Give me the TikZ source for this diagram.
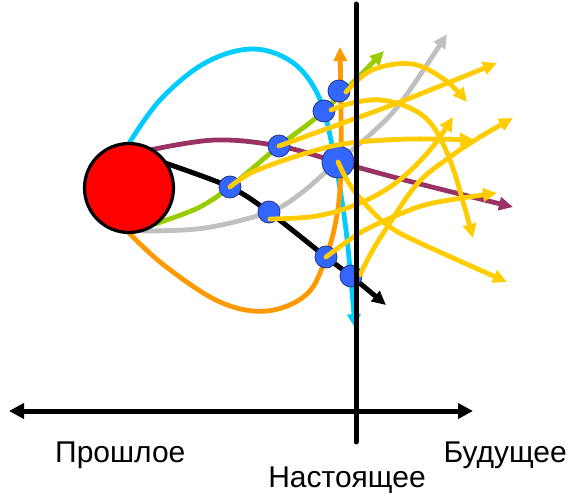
\documentclass[tikz,border=0pt]{standalone}
\usepackage{fontspec}
\setmainfont{Liberation Sans}
\usetikzlibrary{arrows.meta}
\definecolor{cyanc}{RGB}{0,204,255}
\definecolor{purpc}{RGB}{153,51,102}
\definecolor{greenc}{RGB}{153,204,0}
\definecolor{grayc}{RGB}{192,192,192}
\definecolor{orangec}{RGB}{255,153,0}
\definecolor{yellowc}{RGB}{255,204,0}
\definecolor{dotblue}{RGB}{51,102,255}
\definecolor{dotedge}{RGB}{35,55,130}
\tikzset{
  curve/.style={line width=4.8pt, line cap=round, line join=round},
  arr/.style={-{Triangle[length=14pt,width=13pt]}},
  dot/.style={circle, fill=dotblue, draw=dotedge, line width=0.8pt, minimum size=22pt, inner sep=0pt},
  bigdot/.style={dot, minimum size=32pt},
  lbl/.style={font=\fontsize{30}{34}\selectfont, inner sep=0pt},
  axisline/.style={line width=5pt},
}
\begin{document}
\begin{tikzpicture}[x=1pt,y=-1pt]
\useasboundingbox (0,0) rectangle (570,494);
% dot positions
\coordinate (A) at (230,187);
\coordinate (B) at (279,146);
\coordinate (D) at (269,212);
\coordinate (E) at (324,111);
\coordinate (F) at (339,91);
\coordinate (G) at (338,162);
\coordinate (H) at (326,257);
\coordinate (K) at (351,276);
\coordinate (C) at (129,188);
% arrow ends
\coordinate (cyanend) at (355,328);
\coordinate (purpend) at (513,207);
\coordinate (blackend) at (386,305);
\coordinate (greenend) at (384,51);
\coordinate (grayend) at (447,34);
\coordinate (orangeend) at (340,47);
% base curves
\draw[curve, cyanc, arr] plot[smooth, tension=0.6] coordinates {(128,145) (160,100) (205,63) (252,49) (292,62) (318,95) (332,145) (346,230) (cyanend)};
\draw[curve, purpc, arr] plot[smooth, tension=0.6] coordinates {(150,150) (215,140) (B) (G) (420,184) (purpend)};
\draw[curve, black, line width=5pt, arr] plot[smooth, tension=0.5] coordinates {(165,163) (A) (D) (H) (K) (blackend)};
\draw[curve, greenc, arr] plot[smooth, tension=0.5] coordinates {(155,224) (198,208) (A) (B) (E) (greenend)};
\draw[curve, grayc, arr] plot[smooth, tension=0.6] coordinates {(143,231) (205,228) (D) (300,194) (336,163) (372,133) (402,101) (grayend)};
\draw[curve, orangec, arr] plot[smooth, tension=0.6] coordinates {(128,232) (165,266) (220,302) (267,311) (307,294) (326,257) (337,215) (341,170) (341,110) (orangeend)};
% red circle
\node[circle, fill=red, draw=black, line width=3.2pt, minimum size=89pt, inner sep=0pt] (sun) at (C) {};
% dots
\node[dot] (dA) at (A) {};
\node[dot] (dB) at (B) {};
\node[dot] (dD) at (D) {};
\node[dot] (dE) at (E) {};
\node[dot] (dF) at (F) {};
\node[bigdot] (dG) at (G) {};
\node[dot] (dH) at (H) {};
\node[dot] (dK) at (K) {};
% yellow arrows
\coordinate (y1) at (467,102);
\coordinate (y2) at (473,238);
\coordinate (y3) at (497,63);
\coordinate (y4) at (474,140);
\coordinate (y5) at (453,117);
\coordinate (y6) at (507,282);
\coordinate (y7) at (497,193);
\coordinate (y8) at (513,118);
\draw[curve, yellowc, arr] plot[smooth, tension=0.6] coordinates {(346,92) (372,70) (412,64) (445,80) (y1)};
\draw[curve, yellowc, arr] plot[smooth, tension=0.6] coordinates {(331,110) (352,103) (380,100) (410,108) (432,125) (450,160) (464,205) (y2)};
\draw[curve, yellowc, arr] plot[smooth, tension=0.5] coordinates {(B) (340,124) (400,102) (y3)};
\draw[curve, yellowc, arr] plot[smooth, tension=0.6] coordinates {(A) (255,171) (310,152) (350,143) (410,139) (y4)};
\draw[curve, yellowc, arr] plot[smooth, tension=0.6] coordinates {(270,219) (317,216) (360,203) (397,182) (430,150) (y5)};
\draw[curve, yellowc, arr] plot[smooth, tension=0.6] coordinates {(G) (350,185) (368,207) (390,227) (420,243) (y6)};
\draw[curve, yellowc, arr] plot[smooth, tension=0.6] coordinates {(H) (345,243) (365,230) (400,214) (433,203) (y7)};
\draw[curve, yellowc, arr] plot[smooth, tension=0.6] coordinates {(360,275) (370,255) (384,232) (417,184) (450,157) (480,137) (y8)};
% present line and time axis
\coordinate (ntop) at (356,4);
\coordinate (nbot) at (356,442);
\coordinate (tleft) at (9,411);
\coordinate (tright) at (473,411);
\draw[axisline, line cap=round] (ntop) -- (nbot);
\draw[axisline, {Triangle[length=15pt,width=15pt]}-{Triangle[length=15pt,width=15pt]}] (tleft) -- (tright);
% labels
\node[lbl, anchor=base west] (past) at (55,462) {Прошлое};
\node[lbl, anchor=base east] (future) at (567,462) {Будущее};
\node[lbl, anchor=base] (present) at (347,487) {Настоящее};
\end{tikzpicture}
\end{document}
